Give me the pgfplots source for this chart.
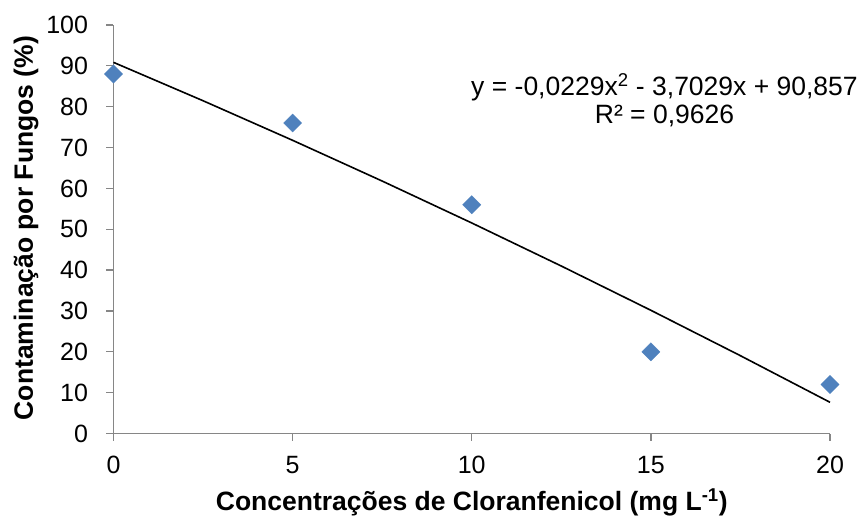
\documentclass[border=0pt]{standalone}
\usepackage{fontspec}
\setmainfont{Liberation Sans}
\usepackage{pgfplots}
\pgfplotsset{compat=1.18}
\definecolor{ptblue}{HTML}{4F81BD}
\definecolor{axgray}{HTML}{868686}
\begin{document}
\begin{tikzpicture}
\useasboundingbox (-113.5bp,-85.5bp) rectangle (746.5bp,433.5bp);
\begin{axis}[
  scale only axis,
  width=716.5bp, height=408.5bp,
  xmin=0, xmax=20, ymin=0, ymax=100,
  xtick={0,5,10,15,20}, ytick={0,10,...,100},
  axis x line*=bottom, axis y line*=left,
  axis line style={axgray, line width=1.3bp, -},
  tick style={axgray, line width=1.3bp},
  tick align=outside, major tick length=7bp,
  /pgf/number format/assume math mode=true,
  ticklabel style={font=\fontsize{25bp}{29bp}\selectfont},
  xticklabel style={yshift=-12bp},
  yticklabel style={xshift=-15bp},
  clip=false,
  xlabel={\textbf{Concentrações de Cloranfenicol (mg L\textsuperscript{-1})}},
  ylabel={\textbf{Contaminação por Fungos (\%)}},
  xlabel style={font=\fontsize{26.5bp}{30bp}\selectfont, at={(axis description cs:0.5,-0.1897)}, anchor=base},
  ylabel style={font=\fontsize{26.5bp}{30bp}\selectfont, at={(axis description cs:-0.1124,0.503)}, anchor=base},
]
\addplot[black, line width=1.6bp, no marks] coordinates {
  (0,90.857) (2.5,81.457) (5,71.770) (7.5,61.797) (10,51.538)
  (12.5,40.993) (15,30.161) (17.5,19.043) (20,7.639)
};
\addplot[only marks, mark=square*, mark size=6.4bp, mark options={rotate=45, fill=ptblue, draw=ptblue}] coordinates {
  (0,88) (5,76) (10,56) (15,20) (20,12)
};
\node[anchor=base, font=\fontsize{26.5bp}{30bp}\selectfont] at (axis cs:15.38,82.86) {y = -0,0229x\textsuperscript{2} - 3,7029x + 90,857};
\node[anchor=base, font=\fontsize{26.5bp}{30bp}\selectfont] at (axis cs:15.38,76.0) {R² = 0,9626};
\end{axis}
\end{tikzpicture}
\end{document}
